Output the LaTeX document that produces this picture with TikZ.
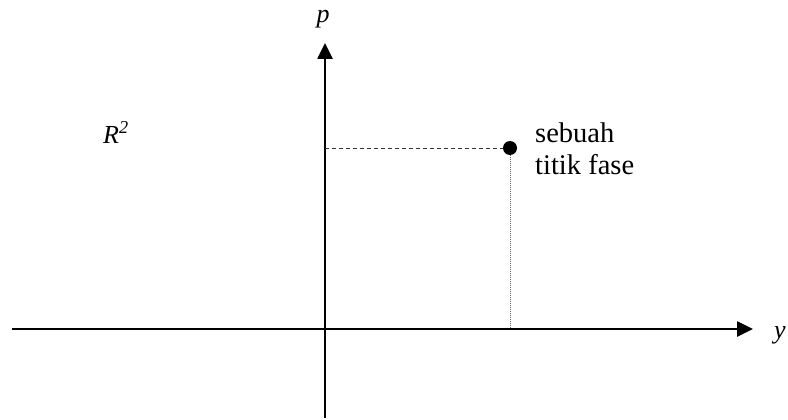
\documentclass[tikz,border=0pt]{standalone}
\usepackage{fontspec}
\setmainfont{Liberation Serif}
\usetikzlibrary{arrows.meta}
\begin{document}
\begin{tikzpicture}[x=1pt,y=-1pt,
  axis/.style={line width=2.6pt,-{Triangle[length=16pt,width=15pt]}},
  lbl/.style={inner sep=0pt,font=\fontsize{26}{31}\selectfont},
  txtlbl/.style={inner sep=0pt,font=\fontsize{28.5}{32}\selectfont},
  guide/.style={line width=0.9pt,dash pattern=on 4pt off 3pt,black!80},
  dropline/.style={line width=0.9pt,dash pattern=on 1pt off 1pt,black!60}]
\useasboundingbox (0,0) rectangle (788,420);
\coordinate (xs) at (12,329);
\coordinate (xe) at (753,329);
\coordinate (ys) at (325,418);
\coordinate (ye) at (325,43);
\coordinate (py) at (325,148);
\coordinate (px) at (510,329);
\draw[axis] (xs) -- (xe);
\draw[axis] (ys) -- (ye);
\node[circle,fill=black,inner sep=0pt,minimum size=14pt] (pt) at (510,148) {};
\draw[guide] (py) -- (pt.west);
\draw[dropline] (pt.south) -- (px);
\node[lbl,anchor=base] (plab) at (323,23) {\textit{p}};
\node[lbl,anchor=base] (ylab) at (780,338) {\textit{y}};
\node[lbl,anchor=base west] (R) at (103,143) {\textit{R}\textsuperscript{\textit{2}}};
\node[txtlbl,anchor=base west,align=left] (txt) at (535,174) {sebuah\\titik fase};
\end{tikzpicture}
\end{document}
